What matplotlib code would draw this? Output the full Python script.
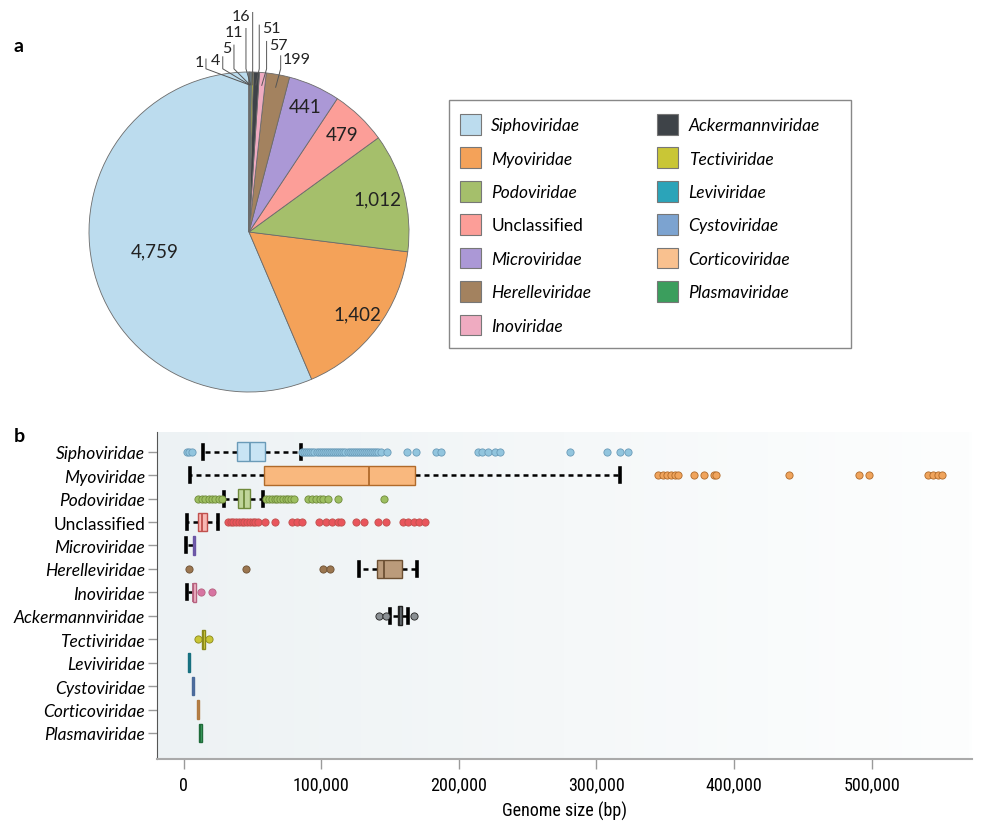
import numpy as np
import matplotlib.pyplot as plt
from matplotlib import font_manager
from matplotlib.patches import Rectangle, Patch
from matplotlib.colors import LinearSegmentedColormap

plt.rcParams['font.family'] = ['Lato', 'DejaVu Sans']

families = ["Siphoviridae", "Myoviridae", "Podoviridae", "Unclassified", "Microviridae",
            "Herelleviridae", "Inoviridae", "Ackermannviridae", "Tectiviridae", "Leviviridae",
            "Cystoviridae", "Corticoviridae", "Plasmaviridae"]
counts = [4759, 1402, 1012, 479, 441, 199, 57, 51, 16, 11, 5, 4, 1]

pie_colors = ["#bcdcee", "#f4a259", "#a5bf6b", "#fc9e98", "#ab98d6", "#a3825f", "#efabc1",
              "#3e4348", "#c9c636", "#2ba4b9", "#7ca3d0", "#f9c18f", "#3b9e5d"]
box_face = ["#c8e4f4", "#f9b87e", "#c0d59a", "#f7b8b4", "#bcabe0", "#bb9b7b", "#f2b7c9",
            "#60666b", "#d0cd3f", "#2ba4b9", "#89aad7", "#f9c18f", "#3b9e5d"]
box_edge = ["#6a9bb8", "#b06a2a", "#6f8a3b", "#c0504d", "#6a55a5", "#6d5033", "#b6627f",
            "#222222", "#8a881a", "#17707f", "#4a6a9a", "#b07a40", "#1f6b3a"]
flier_face = ["#92c5de", "#f0a45c", "#9dbf60", "#e9555c", "#ab98d6", "#9b7650", "#d774a2",
              "#8b9094", "#c9c636", "#2ba4b9", "#7ca3d0", "#f9c18f", "#3b9e5d"]

# genome size box stats (bp)
whislo = [13900, 4400, 29200, 2000, 1900, 127300, 2000, 150000, 13400, 2700, 5600, 9300, 11200]
q1 = [38700, 58600, 39200, 10000, 6400, 140300, 6400, 155400, 13400, 2700, 5600, 9300, 11200]
med = [48200, 134500, 44000, 13100, 7100, 145800, 7000, 156600, 14200, 3500, 6500, 10000, 12000]
q3 = [59100, 168000, 48200, 16600, 8000, 158800, 8600, 158300, 15100, 4400, 7500, 10700, 12900]
whishi = [85400, 317000, 57900, 25000, 8000, 169500, 8600, 163200, 15100, 4400, 7500, 10700, 12900]

sipho_out = [2200, 3800, 5600, 86000, 87500, 89000, 90500, 92000, 93500, 95000, 96500, 98000,
             99500, 101000, 102500, 104000, 105500, 107000, 108500, 110000, 111500, 113000,
             114500, 116000, 117500, 119000, 120500, 122000, 123500, 125000, 126500, 128000,
             129500, 131000, 132500, 134000, 135500, 137000, 138500, 140000, 141500, 143000,
             148000, 162000, 169000, 183000, 187000, 214000, 217000, 221000, 226000, 230000,
             280500, 308000, 317000, 323000]
myo_out = [345000, 348000, 351000, 354000, 357000, 359000, 370600, 378000, 385300, 387000,
           440000, 490700, 498000, 541000, 544600, 548000, 551000]
podo_out = [10500, 13000, 15500, 18000, 20500, 23000, 25500, 27500, 60000, 62000, 64000, 66000,
            68000, 70000, 72000, 74000, 76000, 78000, 80000, 90500, 93000, 96000, 99000, 101500,
            104500, 112000, 145500]
uncl_out = [32000, 34000, 36000, 38000, 40000, 42000, 44000, 46000, 48000, 50000, 52000, 54000,
            59000, 66400, 79000, 82000, 86000, 98000, 103000, 108000, 112000, 114000, 125000,
            131000, 141000, 147000, 159000, 163000, 167000, 171000, 175000]
micro_out = []
herelle_out = [3700, 45000, 101000, 106000]
ino_out = [12800, 20800]
acker_out = [141900, 147200, 167600]
tecti_out = [10400, 18200]
levi_out = []
cysto_out = []
cortico_out = []
plasma_out = []
fliers = [sipho_out, myo_out, podo_out, uncl_out, micro_out, herelle_out, ino_out, acker_out,
          tecti_out, levi_out, cysto_out, cortico_out, plasma_out]


def pick_font(cands):
    for name, size in cands:
        try:
            font_manager.findfont(name, fallback_to_default=False)
            return name, size
        except ValueError:
            pass
    return "DejaVu Sans", 12


narrow, narrow_size = pick_font([("Liberation Sans Narrow", 13), ("Roboto Condensed", 13),
                                 ("Open Sans Condensed", 13), ("Roboto", 12)])

fig = plt.figure(figsize=(9.86, 8.28), dpi=100)


def fx(px):
    return px / 986


def fy(py):
    return 1 - py / 828


# ---- panel a: pie
ax1 = fig.add_axes([fx(89), fy(393), 320 / 986, 320 / 828])
wedges, _ = ax1.pie(counts, colors=pie_colors, startangle=90, counterclock=True,
                    wedgeprops=dict(edgecolor="#6b6b6b", linewidth=0.6))
ax1.set_xlim(-1, 1)
ax1.set_ylim(-1, 1)
ax1.set_aspect("equal")

inner_r = [0.6, 0.85, 0.83, 0.84, 0.86]
for i, r in enumerate(inner_r):
    w = wedges[i]
    ang = np.deg2rad((w.theta1 + w.theta2) / 2)
    ax1.text(r * np.cos(ang), r * np.sin(ang), f"{counts[i]:,}", ha="center", va="center",
             fontsize=13.5, color="#222222")

# small slices: label anchor (line x, label y) and side
small_lab = {5: (0.198, 1.081, "left"), 6: (0.110, 1.171, "left"), 7: (0.064, 1.273, "left"),
             8: (0.023, 1.352, "right"), 9: (-0.019, 1.252, "right"), 10: (-0.094, 1.148, "right"),
             11: (-0.164, 1.075, "right"), 12: (-0.269, 1.061, "right")}
for i, (lx, ly, side) in small_lab.items():
    w = wedges[i]
    ang = np.deg2rad((w.theta1 + w.theta2) / 2)
    ex, ey = 0.92 * np.cos(ang), 0.92 * np.sin(ang)
    ax1.plot([lx, lx, ex], [ly + 0.02, 1.02, ey], color="#555555", lw=0.7, clip_on=False)
    off = 0.015 if side == "left" else -0.015
    ax1.text(lx + off, ly, f"{counts[i]:,}", ha=side, va="center", fontsize=11.5,
             color="#222222")

# legend
fig.add_artist(Rectangle((fx(449), fy(349)), fx(851) - fx(449), fy(101) - fy(349),
                         transform=fig.transFigure, fill=False, edgecolor="#888888", lw=1))
handles = [Patch(facecolor=pie_colors[i], edgecolor="#777777", linewidth=0.8)
           for i in range(len(families))]
leg = fig.legend(handles, families, loc="upper left", bbox_to_anchor=(fx(460), fy(115)),
                 ncol=2, frameon=False, fontsize=12.5, handlelength=1.2, handleheight=1.45,
                 handletextpad=0.6, labelspacing=0.74, columnspacing=3.8,
                 borderpad=0, borderaxespad=0)
for t in leg.get_texts():
    if t.get_text() != "Unclassified":
        t.set_style("italic")

fig.text(fx(14), fy(47), "a", fontsize=14, weight="bold", va="center")
fig.text(fx(14), fy(437), "b", fontsize=14, weight="bold", va="center")

# ---- panel b: box plot
ax2 = fig.add_axes([fx(157), fy(760), (972 - 157) / 986, (760 - 433) / 828])
grad = np.linspace(0, 1, 256)[None, :] * np.ones((64, 1))
cmap = LinearSegmentedColormap.from_list("bg", ["#edf2f4", "#fdfefe"])
ax2.imshow(grad, extent=[0, 1, 0, 1], transform=ax2.transAxes, aspect="auto", cmap=cmap,
           zorder=0)

for i in range(len(families)):
    st = dict(med=med[i], q1=q1[i], q3=q3[i], whislo=whislo[i], whishi=whishi[i],
              fliers=fliers[i])
    art = ax2.bxp([st], positions=[i], widths=0.8, orientation="horizontal", patch_artist=True,
                  capwidths=0.6, manage_ticks=False,
                  boxprops=dict(facecolor=box_face[i], edgecolor=box_edge[i], linewidth=1),
                  medianprops=dict(color=box_edge[i], linewidth=1.3),
                  whiskerprops=dict(color="black", linewidth=1.8, linestyle=(0, (2.0, 1.6)),
                                    zorder=1.5),
                  capprops=dict(color="black", linewidth=2.6),
                  flierprops=dict(marker="o", markersize=5.2, markerfacecolor=flier_face[i],
                                  markeredgecolor=box_edge[i], markeredgewidth=0.6,
                                  linestyle="none"))
    for cap in art["caps"]:
        x = cap.get_xdata()[0]
        if x == q1[i] or x == q3[i]:
            cap.set_visible(False)

ax2.set_xlim(-19500, 573000)
ax2.set_ylim(13.11, -0.84)
ax2.set_yticks(range(len(families)))
ax2.set_yticklabels(families, fontsize=12.5)
for t in ax2.get_yticklabels():
    if t.get_text() != "Unclassified":
        t.set_style("italic")
xt = [0, 100000, 200000, 300000, 400000, 500000]
ax2.set_xticks(xt)
ax2.set_xticklabels([f"{v:,}" for v in xt], fontsize=narrow_size, family=narrow)
ax2.set_xlabel("Genome size (bp)", fontsize=narrow_size, family=narrow, labelpad=5)
ax2.tick_params(axis="y", length=6.5, color="#9a9a9a", width=1, pad=2)
ax2.tick_params(axis="x", length=7, color="#9a9a9a", width=1, pad=5)
for s in ["top", "right"]:
    ax2.spines[s].set_visible(False)
ax2.spines["left"].set_color("#555555")
ax2.spines["bottom"].set_color("#aaaaaa")
ax2.spines["bottom"].set_linewidth(1.5)

fig.savefig("out.png", dpi=100)
